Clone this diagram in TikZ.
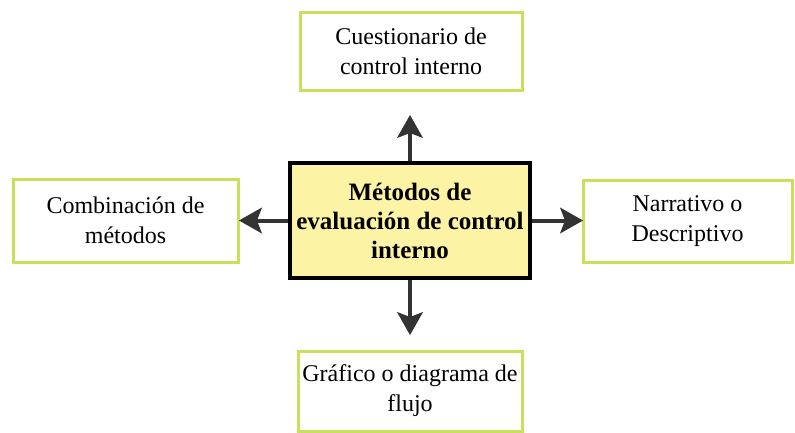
\documentclass[tikz,border=0pt]{standalone}
\usepackage{fontspec}
\setmainfont{LiberationSerif}[Extension=.ttf, UprightFont=*-Regular, BoldFont=*-Bold, ItalicFont=*-Italic, BoldItalicFont=*-BoldItalic]
\usetikzlibrary{arrows.meta}
\definecolor{boxgreen}{HTML}{C9E05A}
\definecolor{centerfill}{HTML}{FCF3A4}
\definecolor{arrowgray}{HTML}{333333}
\tikzset{
  x=1pt, y=-1pt,
  sidebox/.style={draw=boxgreen, line width=3pt, fill=white, align=center,
    font=\fontsize{24}{30}\selectfont, inner sep=0pt},
  centerbox/.style={draw=black, line width=3.5pt, fill=centerfill, align=center,
    font=\fontsize{25}{29}\selectfont\bfseries, inner sep=0pt,
    minimum width=240pt, minimum height=115pt},
  conn/.style={draw=arrowgray, line width=4pt,
    -{Stealth[width=26pt,length=23pt,inset=5pt,fill=arrowgray,line width=1pt]}}
}
\begin{document}
\begin{tikzpicture}
\useasboundingbox (0,0) rectangle (795,432);
\fill[white] (0,0) rectangle (795,432);
\node[centerbox] (c) at (410,220.5) {Métodos de\\evaluación de control\\interno};
\node[sidebox, minimum width=222pt, minimum height=78pt] (top) at (411,51) {Cuestionario de\\control interno};
\node[sidebox, minimum width=225pt, minimum height=83pt] (left) at (125.5,220.5) {Combinación de\\métodos};
\node[sidebox, minimum width=209pt, minimum height=82pt] (right) at (687.5,221) {Narrativo o\\Descriptivo};
\node[sidebox, minimum width=224pt, minimum height=80pt] (bottom) at (410,391) {Gráfico o diagrama de\\flujo};
\coordinate (tu) at (410,115);
\coordinate (tl) at (239,220.5);
\coordinate (tr) at (583,220.5);
\coordinate (td) at (410,335);
\draw[conn] (c.north) -- (tu);
\draw[conn] (c.west) -- (tl);
\draw[conn] (c.east) -- (tr);
\draw[conn] (c.south) -- (td);
\end{tikzpicture}
\end{document}
